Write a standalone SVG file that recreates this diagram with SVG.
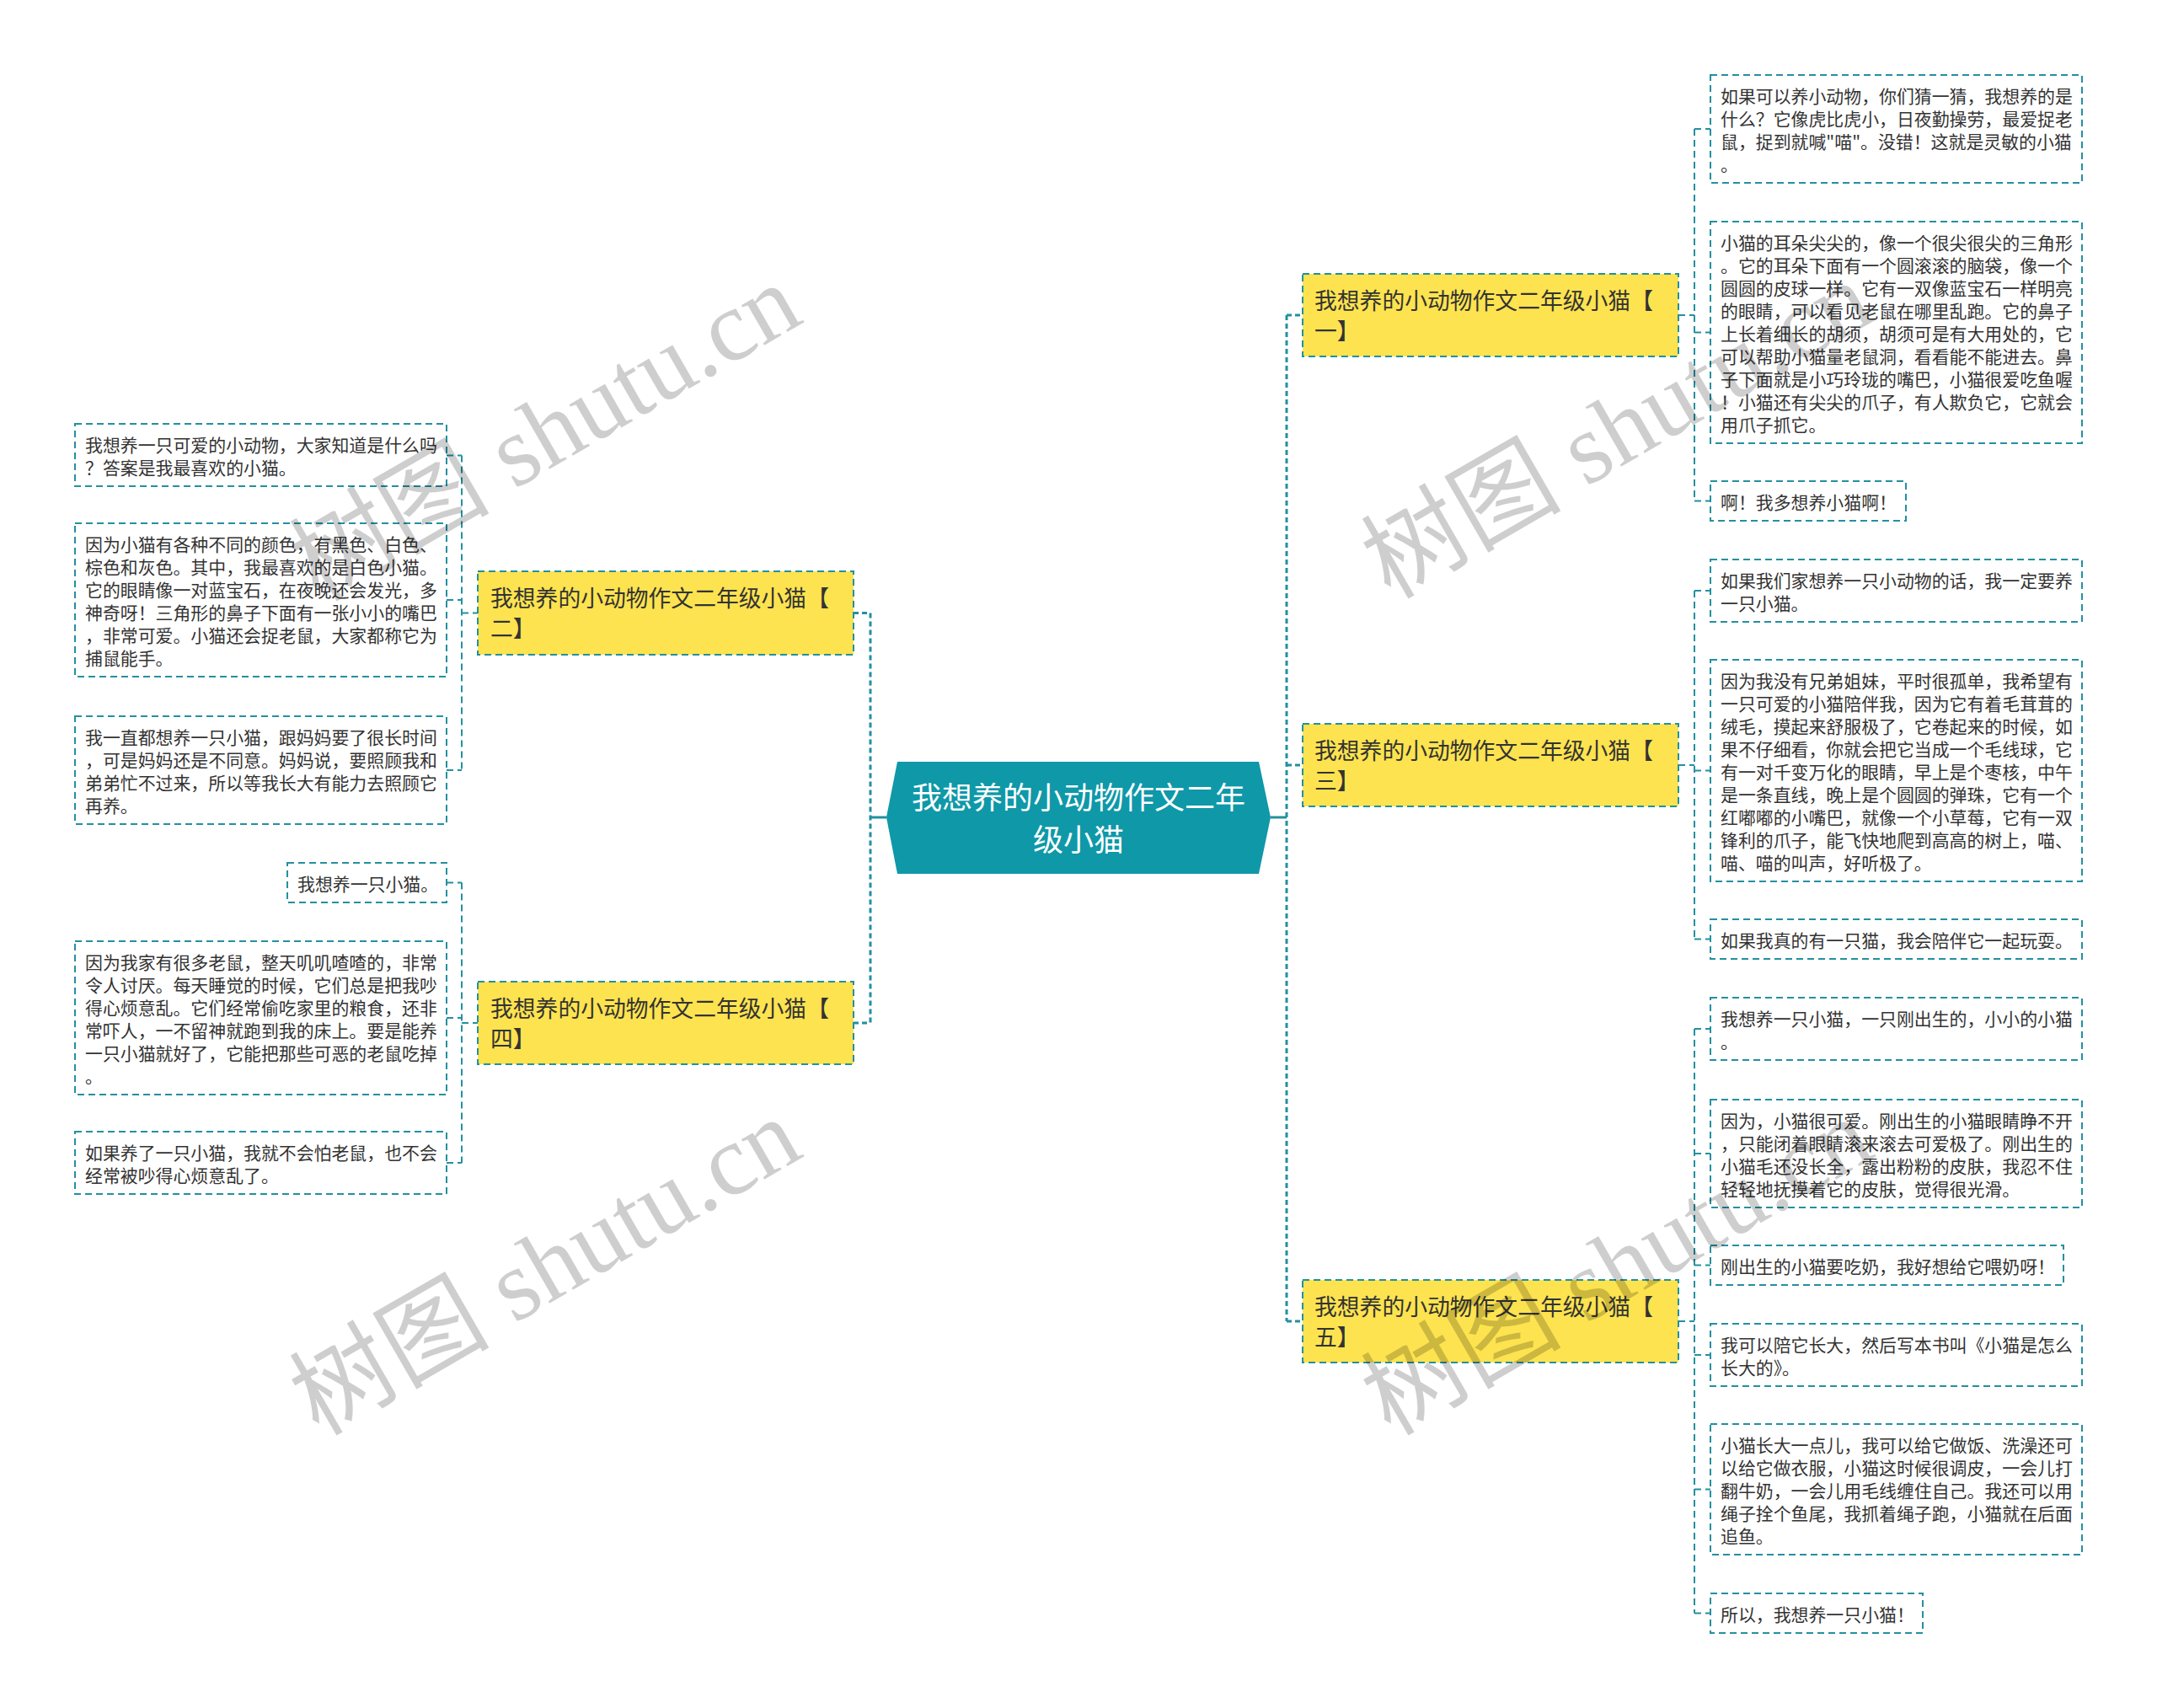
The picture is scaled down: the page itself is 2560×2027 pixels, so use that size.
<svg xmlns="http://www.w3.org/2000/svg" width="2560" height="2027" viewBox="0 0 2560 2027">
<style>
.leaf rect{fill:#fff;stroke:#2390a0;stroke-width:2;stroke-dasharray:8 5}
.leaf text{font-family:"Noto Sans CJK SC",sans-serif;font-size:20.9px;fill:#333}
.branch rect{fill:#fde34f;stroke:#2390a0;stroke-width:2;stroke-dasharray:8 5}
.branch text{font-family:"Noto Sans CJK SC",sans-serif;font-size:26.8px;fill:#333}
.conn path{fill:none;stroke:#2390a0;stroke-width:2;stroke-dasharray:8 5}
.conn path.main{stroke-width:3;stroke-dasharray:6 4}
.conn path.solid{stroke-width:3;stroke-dasharray:none}
.wm{font-family:"Liberation Serif","Noto Sans CJK SC",serif;font-size:119px;fill:#000;opacity:0.19}
</style>
<rect width="2560" height="2027" fill="#fff"/>
<g id="connectors" class="conn">
<path class="solid" d="M1052 970H1033"/>
<path class="solid" d="M1508 970H1527"/>
<path class="main" d="M1033 727.5V1214"/>
<path class="main" d="M1013 727.5H1033"/>
<path class="main" d="M1013 1214H1033"/>
<path class="main" d="M1527 374V1568"/>
<path class="main" d="M1527 374H1546"/>
<path class="main" d="M1527 908H1546"/>
<path class="main" d="M1527 1568H1546"/>
<path d="M548 540.5V914M548 727.5H567M530 540.5H548M530 712H548M530 914H548"/>
<path d="M548 1047.5V1380M548 1214H567M530 1047.5H548M530 1208H548M530 1380H548"/>
<path d="M2011 153V594.5M1992 374H2011M2011 153H2030M2011 394.5H2030M2011 594.5H2030"/>
<path d="M2011 701V1114.5M1992 908H2011M2011 701H2030M2011 914.5H2030M2011 1114.5H2030"/>
<path d="M2011 1221V1914.5M1992 1568H2011M2011 1221H2030M2011 1369H2030M2011 1501.5H2030M2011 1608H2030M2011 1767.5H2030M2011 1914.5H2030"/>
</g>
<g id="root">
<polygon points="1065,904 1494,904 1508,970 1494,1037 1065,1037 1052,970" fill="#0f98a8"/>
<text x="1280" y="960" text-anchor="middle" font-family="Noto Sans CJK SC, sans-serif" font-size="36" fill="#fff">我想养的小动物作文二年</text>
<text x="1280" y="1010" text-anchor="middle" font-family="Noto Sans CJK SC, sans-serif" font-size="36" fill="#fff">级小猫</text>
</g>
<g id="b1" class="branch"><rect x="1546" y="325" width="446" height="98"/><text x="1560" y="367">我想养的小动物作文二年级小猫【</text><text x="1560" y="403">一】</text></g>
<g id="b3" class="branch"><rect x="1546" y="859" width="446" height="98"/><text x="1560" y="901">我想养的小动物作文二年级小猫【</text><text x="1560" y="937">三】</text></g>
<g id="b5" class="branch"><rect x="1546" y="1519" width="446" height="98"/><text x="1560" y="1561">我想养的小动物作文二年级小猫【</text><text x="1560" y="1597">五】</text></g>
<g id="b2" class="branch"><rect x="567" y="678" width="446" height="99"/><text x="582" y="720">我想养的小动物作文二年级小猫【</text><text x="582" y="756">二】</text></g>
<g id="b4" class="branch"><rect x="567" y="1165" width="446" height="98"/><text x="582" y="1207">我想养的小动物作文二年级小猫【</text><text x="582" y="1243">四】</text></g>
<g id="l1" class="leaf"><rect x="89" y="503" width="441" height="74"/><text x="101" y="536">我想养一只可爱的小动物，大家知道是什么吗</text><text x="101" y="563">？答案是我最喜欢的小猫。</text></g>
<g id="l2" class="leaf"><rect x="89" y="621" width="441" height="182"/>
<text x="101" y="654">因为小猫有各种不同的颜色，有黑色、白色、</text>
<text x="101" y="681">棕色和灰色。其中，我最喜欢的是白色小猫。</text>
<text x="101" y="708">它的眼睛像一对蓝宝石，在夜晚还会发光，多</text>
<text x="101" y="735">神奇呀！三角形的鼻子下面有一张小小的嘴巴</text>
<text x="101" y="762">，非常可爱。小猫还会捉老鼠，大家都称它为</text>
<text x="101" y="789">捕鼠能手。</text></g>
<g id="l3" class="leaf"><rect x="89" y="850" width="441" height="128"/>
<text x="101" y="883">我一直都想养一只小猫，跟妈妈要了很长时间</text>
<text x="101" y="910">，可是妈妈还是不同意。妈妈说，要照顾我和</text>
<text x="101" y="937">弟弟忙不过来，所以等我长大有能力去照顾它</text>
<text x="101" y="964">再养。</text></g>
<g id="l4" class="leaf"><rect x="341" y="1024" width="189" height="47"/><text x="353" y="1057">我想养一只小猫。</text></g>
<g id="l5" class="leaf"><rect x="89" y="1117" width="441" height="182"/>
<text x="101" y="1150">因为我家有很多老鼠，整天叽叽喳喳的，非常</text>
<text x="101" y="1177">令人讨厌。每天睡觉的时候，它们总是把我吵</text>
<text x="101" y="1204">得心烦意乱。它们经常偷吃家里的粮食，还非</text>
<text x="101" y="1231">常吓人，一不留神就跑到我的床上。要是能养</text>
<text x="101" y="1258">一只小猫就好了，它能把那些可恶的老鼠吃掉</text>
<text x="101" y="1285">。</text></g>
<g id="l6" class="leaf"><rect x="89" y="1343" width="441" height="74"/><text x="101" y="1376">如果养了一只小猫，我就不会怕老鼠，也不会</text><text x="101" y="1403">经常被吵得心烦意乱了。</text></g>
<g id="r1" class="leaf"><rect x="2030" y="89" width="441" height="128"/>
<text x="2042" y="122">如果可以养小动物，你们猜一猜，我想养的是</text>
<text x="2042" y="149">什么？它像虎比虎小，日夜勤操劳，最爱捉老</text>
<text x="2042" y="176">鼠，捉到就喊"喵"。没错！这就是灵敏的小猫</text>
<text x="2042" y="203">。</text></g>
<g id="r2" class="leaf"><rect x="2030" y="263" width="441" height="263"/>
<text x="2042" y="296">小猫的耳朵尖尖的，像一个很尖很尖的三角形</text>
<text x="2042" y="323">。它的耳朵下面有一个圆滚滚的脑袋，像一个</text>
<text x="2042" y="350">圆圆的皮球一样。它有一双像蓝宝石一样明亮</text>
<text x="2042" y="377">的眼睛，可以看见老鼠在哪里乱跑。它的鼻子</text>
<text x="2042" y="404">上长着细长的胡须，胡须可是有大用处的，它</text>
<text x="2042" y="431">可以帮助小猫量老鼠洞，看看能不能进去。鼻</text>
<text x="2042" y="458">子下面就是小巧玲珑的嘴巴，小猫很爱吃鱼喔</text>
<text x="2042" y="485">！小猫还有尖尖的爪子，有人欺负它，它就会</text>
<text x="2042" y="512">用爪子抓它。</text></g>
<g id="r3" class="leaf"><rect x="2030" y="571" width="232" height="47"/><text x="2042" y="604">啊！我多想养小猫啊！</text></g>
<g id="r4" class="leaf"><rect x="2030" y="664" width="441" height="74"/><text x="2042" y="697">如果我们家想养一只小动物的话，我一定要养</text><text x="2042" y="724">一只小猫。</text></g>
<g id="r5" class="leaf"><rect x="2030" y="783" width="441" height="263"/>
<text x="2042" y="816">因为我没有兄弟姐妹，平时很孤单，我希望有</text>
<text x="2042" y="843">一只可爱的小猫陪伴我，因为它有着毛茸茸的</text>
<text x="2042" y="870">绒毛，摸起来舒服极了，它卷起来的时候，如</text>
<text x="2042" y="897">果不仔细看，你就会把它当成一个毛线球，它</text>
<text x="2042" y="924">有一对千变万化的眼睛，早上是个枣核，中午</text>
<text x="2042" y="951">是一条直线，晚上是个圆圆的弹珠，它有一个</text>
<text x="2042" y="978">红嘟嘟的小嘴巴，就像一个小草莓，它有一双</text>
<text x="2042" y="1005">锋利的爪子，能飞快地爬到高高的树上，喵、</text>
<text x="2042" y="1032">喵、喵的叫声，好听极了。</text></g>
<g id="r6" class="leaf"><rect x="2030" y="1091" width="441" height="47"/><text x="2042" y="1124">如果我真的有一只猫，我会陪伴它一起玩耍。</text></g>
<g id="r7" class="leaf"><rect x="2030" y="1184" width="441" height="74"/><text x="2042" y="1217">我想养一只小猫，一只刚出生的，小小的小猫</text><text x="2042" y="1244">。</text></g>
<g id="r8" class="leaf"><rect x="2030" y="1305" width="441" height="128"/>
<text x="2042" y="1338">因为，小猫很可爱。刚出生的小猫眼睛睁不开</text>
<text x="2042" y="1365">，只能闭着眼睛滚来滚去可爱极了。刚出生的</text>
<text x="2042" y="1392">小猫毛还没长全，露出粉粉的皮肤，我忍不住</text>
<text x="2042" y="1419">轻轻地抚摸着它的皮肤，觉得很光滑。</text></g>
<g id="r9" class="leaf"><rect x="2030" y="1478" width="419" height="47"/><text x="2042" y="1511">刚出生的小猫要吃奶，我好想给它喂奶呀！</text></g>
<g id="r10" class="leaf"><rect x="2030" y="1571" width="441" height="74"/><text x="2042" y="1604">我可以陪它长大，然后写本书叫《小猫是怎么</text><text x="2042" y="1631">长大的》。</text></g>
<g id="r11" class="leaf"><rect x="2030" y="1690" width="441" height="155"/>
<text x="2042" y="1723">小猫长大一点儿，我可以给它做饭、洗澡还可</text>
<text x="2042" y="1750">以给它做衣服，小猫这时候很调皮，一会儿打</text>
<text x="2042" y="1777">翻牛奶，一会儿用毛线缠住自己。我还可以用</text>
<text x="2042" y="1804">绳子拴个鱼尾，我抓着绳子跑，小猫就在后面</text>
<text x="2042" y="1831">追鱼。</text></g>
<g id="r12" class="leaf"><rect x="2030" y="1891" width="252" height="47"/><text x="2042" y="1924">所以，我想养一只小猫！</text></g>
<g id="watermarks">
<text class="wm" transform="translate(378 715) rotate(-30)">树图 shutu.cn</text>
<text class="wm" transform="translate(378 1705) rotate(-30)">树图 shutu.cn</text>
<text class="wm" transform="translate(1650 712) rotate(-30)">树图 shutu.cn</text>
<text class="wm" transform="translate(1650 1705) rotate(-30)">树图 shutu.cn</text>
</g>
</svg>
